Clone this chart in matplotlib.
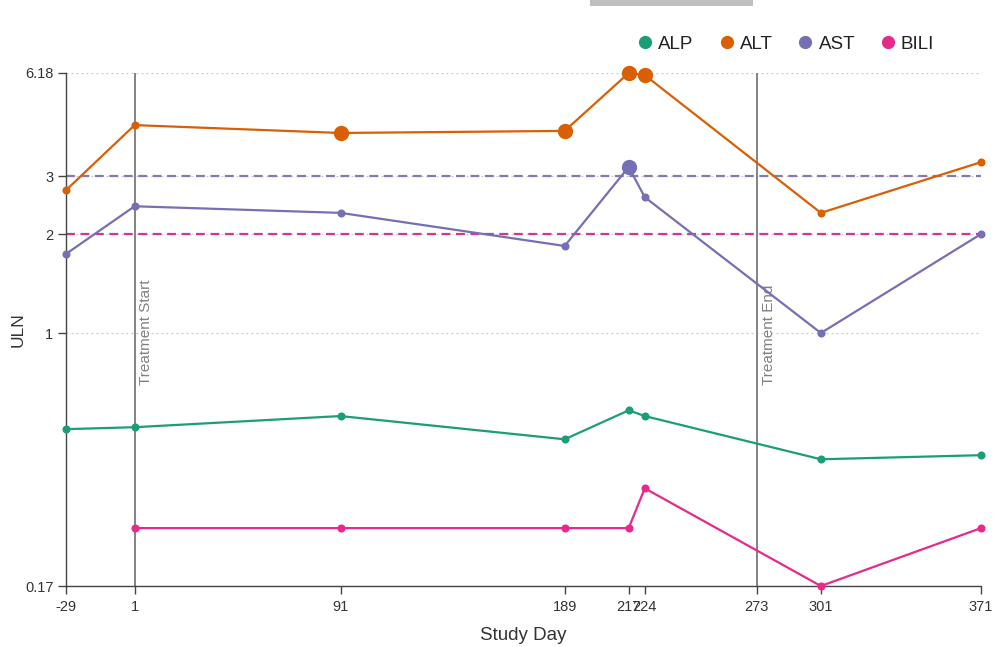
import matplotlib
matplotlib.use("Agg")
import matplotlib.pyplot as plt
from matplotlib.lines import Line2D
from matplotlib.patches import Rectangle
from matplotlib.transforms import blended_transform_factory

plt.rcParams["font.family"] = ["Liberation Sans", "DejaVu Sans"]

# Study days of each visit
days = [-29, 1, 91, 189, 217, 224, 301, 371]
tick_days = [-29, 1, 91, 189, 217, 224, 273, 301, 371]

# Lab values as multiples of ULN
alp = [0.51, 0.517, 0.559, 0.475, 0.582, 0.559, 0.413, 0.425]
alt = [2.72, 4.29, 4.06, 4.12, 6.18, 6.09, 2.32, 3.31]
ast = [1.74, 2.43, 2.32, 1.84, 3.20, 2.59, 1.00, 2.00]
bili_days = [1, 91, 189, 217, 224, 301, 371]
bili = [0.255, 0.255, 0.255, 0.255, 0.337, 0.17, 0.255]

# Flagged visits drawn with larger markers
alt_flag = [False, False, True, True, True, True, False, False]
ast_flag = [False, False, False, False, True, False, False, False]

y_ticks = [0.17, 1, 2, 3, 6.18]
y_tick_labels = ["0.17", "1", "2", "3", "6.18"]

ref_ast, ref_bili = 3, 2
events = [(1, "Treatment Start"), (273, "Treatment End")]

colors = {"ALP": "#1b9e77", "ALT": "#d95f02", "AST": "#7570b3", "BILI": "#e7298a"}

fig = plt.figure(figsize=(9.94, 6.47), dpi=100)
ax = fig.add_axes([66 / 994, 1 - 586 / 647, (981 - 66) / 994, (586 - 73) / 647])
ax.set_yscale("log")
ax.set_xlim(-29, 371)
ax.set_ylim(0.17, 6.18)

# grid and reference lines
for yv in y_ticks:
    ax.axhline(yv, color="#c8c8c8", lw=0.9, ls=(0, (1.5, 2.5)), zorder=0)
ax.axhline(ref_ast, color="#8a78aa", lw=1.6, ls=(0, (4, 2.5)), zorder=1)
ax.axhline(ref_bili, color="#d9338a", lw=1.6, ls=(0, (4, 2.5)), zorder=1)

# treatment events
tr = blended_transform_factory(ax.transData, ax.transAxes)
for d, label in events:
    ax.axvline(d, color="#7a7a7a", lw=1.3, zorder=1)
    ax.annotate(label, xy=(d, 0.392), xycoords=tr, xytext=(3.5, 0),
                textcoords="offset points", rotation=90, ha="left", va="bottom",
                fontsize=11, color="#808080")

def draw(x, y, color, flags=None):
    ax.plot(x, y, color=color, lw=1.6, zorder=3, clip_on=False)
    small = [(a, b) for i, (a, b) in enumerate(zip(x, y)) if not (flags and flags[i])]
    big = [(a, b) for i, (a, b) in enumerate(zip(x, y)) if flags and flags[i]]
    if small:
        ax.plot(*zip(*small), "o", color=color, ms=4.8, zorder=4, clip_on=False)
    if big:
        ax.plot(*zip(*big), "o", color=color, ms=10, zorder=4, clip_on=False)

draw(days, alp, colors["ALP"])
draw(days, alt, colors["ALT"], alt_flag)
draw(days, ast, colors["AST"], ast_flag)
draw(bili_days, bili, colors["BILI"])

ax.set_xticks(tick_days)
ax.set_xticklabels([str(d) for d in tick_days])
ax.set_yticks(y_ticks)
ax.set_yticklabels(y_tick_labels)
ax.minorticks_off()
ax.tick_params(axis="both", length=6, width=1, color="#444444",
               labelsize=10.5, labelcolor="#333333")
ax.tick_params(axis="x", pad=4)
ax.tick_params(axis="y", pad=3)

for s in ["top", "right"]:
    ax.spines[s].set_visible(False)
for s in ["left", "bottom"]:
    ax.spines[s].set_color("#444444")
    ax.spines[s].set_linewidth(1)

ax.set_xlabel("Study Day", fontsize=13.5, color="#333333")
ax.xaxis.set_label_coords(0.5, -(627 - 586) / 513)
ax.set_ylabel("ULN", fontsize=12.5, color="#333333")
ax.yaxis.set_label_coords(-(66 - 26) / 915, 0.5)

handles = [Line2D([], [], marker="o", ls="none", color=c, ms=8.5, label=k)
           for k, c in colors.items()]
fig.legend(handles=handles, loc="center left", bbox_to_anchor=(634 / 994, 1 - 44 / 647),
           ncol=4, frameon=False, fontsize=13.5, handletextpad=0.1,
           columnspacing=1.15, handlelength=1.2, borderaxespad=0, borderpad=0,
           labelcolor="#222222")

fig.add_artist(Rectangle((590 / 994, 1 - 6 / 647), (753 - 590) / 994, 6 / 647,
                         transform=fig.transFigure, color="#bfbfbf", lw=0))

fig.savefig("out.png", dpi=100)
